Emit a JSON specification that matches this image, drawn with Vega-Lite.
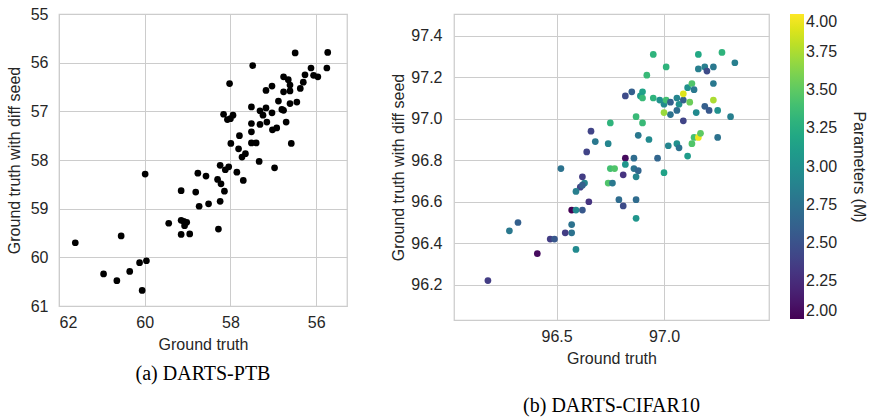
{
  "$schema": "https://vega.github.io/schema/vega-lite/v6.json",
  "background": "white",
  "config": {
    "font": "Liberation Sans",
    "view": {"stroke": "#cccccc", "strokeWidth": 1.25},
    "axis": {"grid": true, "gridColor": "#cccccc", "domain": false, "ticks": false, "labelFontSize": 16, "titleFontSize": 16, "labelColor": "#262626", "titleColor": "#262626", "titleFontWeight": "normal", "labelPadding": 8, "titlePadding": 6},
    "legend": {"gradientLength": 305, "gradientThickness": 14, "labelFontSize": 16, "labelColor": "#262626", "labelOffset": 7, "titleOrient": "right", "titleAnchor": "middle", "titlePadding": 14, "titleFontSize": 16, "titleColor": "#262626", "titleFontWeight": "normal", "offset": 20},
    "title": {"font": "Liberation Serif", "fontSize": 20, "fontWeight": "normal", "color": "black"}
  },
  "spacing": 42,
  "hconcat": [
    {
      "width": 288,
      "height": 292,
      "title": {"text": "(a) DARTS-PTB", "orient": "bottom", "offset": 12},
      "data": {"values": [{"gt":56.49,"seed":55.80},{"gt":55.73,"seed":55.79},{"gt":55.75,"seed":56.11},{"gt":57.48,"seed":56.06},{"gt":58.02,"seed":56.43},{"gt":56.12,"seed":56.11},{"gt":56.26,"seed":56.25},{"gt":56.06,"seed":56.26},{"gt":55.96,"seed":56.29},{"gt":56.30,"seed":56.40},{"gt":56.37,"seed":56.53},{"gt":56.76,"seed":56.29},{"gt":56.65,"seed":56.35},{"gt":56.61,"seed":56.46},{"gt":57.03,"seed":56.48},{"gt":57.17,"seed":56.57},{"gt":56.76,"seed":56.60},{"gt":56.61,"seed":56.58},{"gt":56.88,"seed":56.79},{"gt":56.61,"seed":56.84},{"gt":56.45,"seed":56.81},{"gt":57.51,"seed":56.91},{"gt":57.31,"seed":56.99},{"gt":57.17,"seed":56.93},{"gt":57.03,"seed":57.03},{"gt":57.24,"seed":57.08},{"gt":56.80,"seed":56.96},{"gt":56.76,"seed":56.98},{"gt":58.16,"seed":57.06},{"gt":58.07,"seed":57.17},{"gt":57.94,"seed":57.08},{"gt":58.00,"seed":57.15},{"gt":57.51,"seed":57.25},{"gt":57.31,"seed":57.27},{"gt":57.15,"seed":57.22},{"gt":57.02,"seed":57.38},{"gt":56.92,"seed":57.34},{"gt":56.70,"seed":57.22},{"gt":57.51,"seed":57.42},{"gt":57.79,"seed":57.50},{"gt":57.99,"seed":57.66},{"gt":57.51,"seed":57.65},{"gt":57.40,"seed":57.65},{"gt":56.58,"seed":57.66},{"gt":57.81,"seed":57.77},{"gt":57.73,"seed":57.94},{"gt":57.65,"seed":57.87},{"gt":57.33,"seed":58.03},{"gt":56.97,"seed":58.16},{"gt":58.24,"seed":58.11},{"gt":58.04,"seed":58.14},{"gt":58.12,"seed":58.20},{"gt":57.85,"seed":58.25},{"gt":57.70,"seed":58.42},{"gt":58.76,"seed":58.27},{"gt":58.57,"seed":58.33},{"gt":58.30,"seed":58.40},{"gt":58.22,"seed":58.49},{"gt":58.14,"seed":58.64},{"gt":59.15,"seed":58.63},{"gt":58.81,"seed":58.66},{"gt":58.73,"seed":58.95},{"gt":58.51,"seed":58.90},{"gt":58.24,"seed":58.85},{"gt":59.99,"seed":58.29},{"gt":59.44,"seed":59.30},{"gt":59.15,"seed":59.24},{"gt":59.09,"seed":59.26},{"gt":59.02,"seed":59.28},{"gt":59.07,"seed":59.35},{"gt":59.15,"seed":59.53},{"gt":58.95,"seed":59.52},{"gt":58.28,"seed":59.42},{"gt":60.55,"seed":59.56},{"gt":61.62,"seed":59.70},{"gt":60.12,"seed":60.11},{"gt":59.96,"seed":60.07},{"gt":60.35,"seed":60.29},{"gt":60.96,"seed":60.34},{"gt":60.65,"seed":60.48},{"gt":60.06,"seed":60.68}]},
      "mark": {"type": "circle", "size": 45, "color": "black", "opacity": 1},
      "encoding": {
        "x": {"field": "gt", "type": "quantitative", "scale": {"domain": [55.28, 62], "reverse": true, "nice": false, "zero": false}, "axis": {"values": [56, 58, 60, 62], "format": "d", "title": "Ground truth"}},
        "y": {"field": "seed", "type": "quantitative", "scale": {"domain": [55, 61], "reverse": true, "nice": false, "zero": false}, "axis": {"values": [55, 56, 57, 58, 59, 60, 61], "format": "d", "title": "Ground truth with diff seed", "labelPadding": 11, "titlePadding": 8}}
      }
    },
    {
      "width": 315,
      "height": 306,
      "title": {"text": "(b) DARTS-CIFAR10", "orient": "bottom", "offset": 30},
      "data": {"values": [{"gt":96.95,"seed":97.31,"params":3.3},{"gt":97.16,"seed":97.31,"params":3.2},{"gt":97.27,"seed":97.32,"params":3.3},{"gt":97.33,"seed":97.27,"params":2.85},{"gt":97.01,"seed":97.25,"params":3.3},{"gt":96.92,"seed":97.21,"params":3.35},{"gt":97.16,"seed":97.24,"params":2.85},{"gt":97.19,"seed":97.25,"params":2.85},{"gt":97.20,"seed":97.23,"params":2.45},{"gt":97.23,"seed":97.25,"params":2.8},{"gt":97.23,"seed":97.17,"params":2.8},{"gt":96.82,"seed":97.11,"params":2.45},{"gt":96.85,"seed":97.13,"params":2.6},{"gt":96.90,"seed":97.13,"params":3.15},{"gt":96.89,"seed":97.11,"params":3.1},{"gt":96.90,"seed":97.10,"params":3.35},{"gt":96.95,"seed":97.10,"params":3.3},{"gt":96.98,"seed":97.09,"params":3.0},{"gt":97.00,"seed":97.07,"params":2.95},{"gt":97.01,"seed":97.09,"params":3.4},{"gt":97.03,"seed":97.08,"params":2.6},{"gt":97.06,"seed":97.10,"params":2.9},{"gt":97.07,"seed":97.07,"params":3.0},{"gt":97.09,"seed":97.09,"params":2.6},{"gt":97.09,"seed":97.12,"params":3.9},{"gt":97.11,"seed":97.15,"params":3.0},{"gt":97.13,"seed":97.17,"params":3.45},{"gt":97.14,"seed":97.14,"params":2.8},{"gt":97.12,"seed":97.08,"params":3.55},{"gt":97.06,"seed":97.04,"params":2.7},{"gt":97.03,"seed":97.02,"params":2.75},{"gt":97.00,"seed":97.03,"params":3.7},{"gt":97.09,"seed":96.99,"params":2.4},{"gt":97.15,"seed":97.03,"params":2.95},{"gt":97.19,"seed":97.06,"params":2.6},{"gt":97.21,"seed":97.04,"params":2.55},{"gt":97.23,"seed":97.09,"params":3.75},{"gt":97.25,"seed":97.04,"params":3.0},{"gt":97.31,"seed":97.01,"params":2.85},{"gt":96.87,"seed":97.01,"params":3.35},{"gt":96.90,"seed":96.98,"params":3.35},{"gt":96.75,"seed":96.98,"params":3.3},{"gt":96.66,"seed":96.94,"params":2.4},{"gt":96.68,"seed":96.89,"params":2.8},{"gt":96.74,"seed":96.88,"params":2.9},{"gt":96.88,"seed":96.92,"params":2.8},{"gt":96.93,"seed":96.90,"params":2.95},{"gt":97.02,"seed":96.87,"params":2.9},{"gt":97.06,"seed":96.88,"params":3.0},{"gt":97.07,"seed":96.86,"params":2.75},{"gt":97.14,"seed":96.91,"params":3.4},{"gt":97.16,"seed":96.91,"params":3.95},{"gt":97.17,"seed":96.93,"params":3.5},{"gt":97.13,"seed":96.88,"params":3.45},{"gt":97.25,"seed":96.91,"params":2.75},{"gt":97.11,"seed":96.82,"params":3.1},{"gt":96.97,"seed":96.81,"params":2.65},{"gt":96.64,"seed":96.84,"params":2.4},{"gt":96.82,"seed":96.81,"params":2.05},{"gt":96.86,"seed":96.81,"params":2.7},{"gt":96.82,"seed":96.78,"params":3.05},{"gt":96.52,"seed":96.76,"params":2.75},{"gt":96.75,"seed":96.76,"params":3.4},{"gt":96.77,"seed":96.76,"params":3.45},{"gt":96.86,"seed":96.76,"params":2.75},{"gt":96.88,"seed":96.75,"params":2.65},{"gt":96.87,"seed":96.72,"params":2.9},{"gt":96.81,"seed":96.73,"params":2.3},{"gt":96.62,"seed":96.72,"params":2.35},{"gt":96.74,"seed":96.69,"params":3.45},{"gt":96.76,"seed":96.69,"params":2.8},{"gt":96.63,"seed":96.69,"params":2.9},{"gt":96.61,"seed":96.67,"params":2.4},{"gt":96.62,"seed":96.68,"params":2.6},{"gt":96.59,"seed":96.65,"params":2.85},{"gt":96.65,"seed":96.60,"params":2.3},{"gt":96.79,"seed":96.61,"params":2.7},{"gt":96.81,"seed":96.58,"params":2.45},{"gt":96.87,"seed":96.61,"params":2.7},{"gt":96.57,"seed":96.56,"params":2.0},{"gt":96.59,"seed":96.56,"params":2.95},{"gt":96.62,"seed":96.56,"params":2.55},{"gt":96.87,"seed":96.52,"params":3.05},{"gt":96.57,"seed":96.49,"params":2.75},{"gt":96.57,"seed":96.45,"params":2.75},{"gt":96.54,"seed":96.45,"params":2.35},{"gt":96.47,"seed":96.42,"params":2.35},{"gt":96.49,"seed":96.42,"params":2.55},{"gt":96.32,"seed":96.50,"params":2.6},{"gt":96.28,"seed":96.46,"params":2.8},{"gt":96.59,"seed":96.37,"params":2.95},{"gt":96.41,"seed":96.35,"params":2.05},{"gt":96.18,"seed":96.22,"params":2.35},{"gt":97.00,"seed":96.74,"params":3.15}]},
      "mark": {"type": "circle", "size": 45, "opacity": 1},
      "encoding": {
        "x": {"field": "gt", "type": "quantitative", "scale": {"domain": [96.022, 97.489], "nice": false, "zero": false}, "axis": {"values": [96.5, 97.0], "format": ".1f", "title": "Ground truth"}},
        "y": {"field": "seed", "type": "quantitative", "scale": {"domain": [96.03, 97.505], "nice": false, "zero": false}, "axis": {"values": [96.2, 96.4, 96.6, 96.8, 97.0, 97.2, 97.4], "format": ".1f", "title": "Ground truth with diff seed", "labelPadding": 12, "titlePadding": 4}},
        "color": {"field": "params", "type": "quantitative", "scale": {"scheme": "viridis", "domain": [2, 4]}, "legend": {"title": "Parameters (M)", "values": [2, 2.25, 2.5, 2.75, 3, 3.25, 3.5, 3.75, 4], "format": ".2f"}}
      }
    }
  ]
}
